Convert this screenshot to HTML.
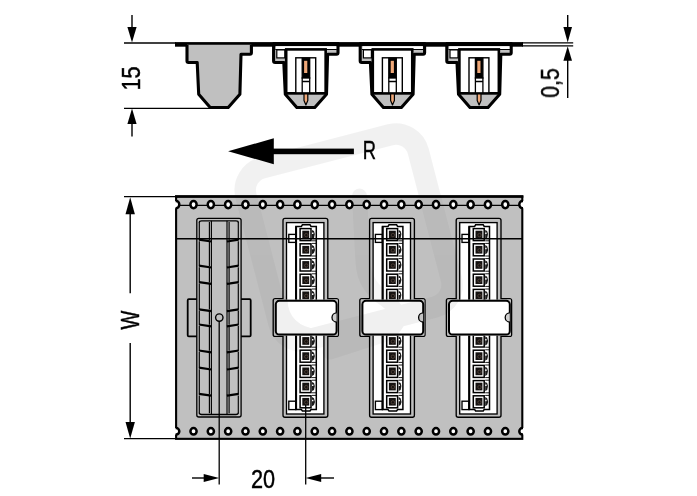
<!DOCTYPE html>
<html lang="en">
<head>
<meta charset="utf-8">
<title>Carrier tape dimensions</title>
<style>
html,body{margin:0;padding:0;background:#fff;}
body{width:697px;height:496px;overflow:hidden;}
svg{display:block;}
svg text{font-family:"Liberation Sans",sans-serif;fill:#000;}
.txt{filter:grayscale(1);}
</style>
</head>
<body>
<svg width="697" height="496" viewBox="0 0 697 496">
<defs>
<clipPath id="stripclip"><rect x="175.8" y="196" width="346.5" height="243"/></clipPath>
<clipPath id="latchclip"><rect x="275.80" y="300.8" width="60.8" height="33.8" rx="3.6"/><rect x="362.40" y="300.8" width="60.8" height="33.8" rx="3.6"/><rect x="449.00" y="300.8" width="60.8" height="33.8" rx="3.6"/></clipPath>
<clipPath id="lclip"><rect x="170" y="190" width="5.0" height="260"/></clipPath>
<clipPath id="rclip"><rect x="523.2" y="190" width="6" height="260"/></clipPath>
</defs>
<rect x="0" y="0" width="697" height="496" fill="#fff"/>
<g fill="none" stroke="#000" opacity="0.052" stroke-linejoin="round" stroke-linecap="round">
<rect x="-89" y="-89" width="178" height="178" rx="23" transform="translate(348.65 237.45) rotate(-14.5)" stroke-width="21.5"/>
<path d="M359.5,196 L363,262 Q364,286 386,300 Q410,318 386,334 L330,352" stroke-width="15"/>
<path d="M283,300 Q284,330 318,334" stroke-width="9"/>
</g>
<line x1="124.00" y1="43.00" x2="176.00" y2="43.00" stroke="#000" stroke-width="1.3" />
<line x1="124.00" y1="108.40" x2="211.00" y2="108.40" stroke="#000" stroke-width="1.3" />
<line x1="522.00" y1="42.85" x2="573.20" y2="42.85" stroke="#000" stroke-width="1.3" />
<line x1="522.00" y1="45.85" x2="573.20" y2="45.85" stroke="#000" stroke-width="1.3" />
<rect x="175.00" y="42.10" width="348.00" height="4.60" rx="0" fill="#000" stroke="none" stroke-width="0" />
<path d="M187.00,44.7 L187.00,61.0 Q187.00,62.5 188.50,62.5 L197.20,62.5 L198.70,94.3 L210.20,107.5 L228.20,107.5 L239.90,94.3 L241.00,54.2 L249.90,54.2 Q251.40,54.2 251.40,52.7 L251.40,44.7" fill="#c0c0c0" stroke="#000" stroke-width="3.1" stroke-linejoin="round"/>
<path d="M273.60,44.7 L273.60,61.0 Q273.60,62.5 275.10,62.5 L283.80,62.5 L285.30,94.3 L296.80,107.5 L314.80,107.5 L326.50,94.3 L327.60,54.2 L336.50,54.2 Q338.00,54.2 338.00,52.7 L338.00,44.7" fill="#c0c0c0" stroke="#000" stroke-width="3.1" stroke-linejoin="round"/>
<rect x="272.70" y="42.10" width="66.40" height="4.10" rx="0" fill="#000" stroke="none" stroke-width="0" />
<rect x="276.00" y="46.20" width="60.20" height="2.80" rx="0" fill="#fff" stroke="none" stroke-width="0" />
<line x1="275.30" y1="49.50" x2="336.80" y2="49.50" stroke="#000" stroke-width="1.1" />
<rect x="276.80" y="49.90" width="8.00" height="8.00" rx="0" fill="#fff" stroke="#000" stroke-width="1.2" />
<rect x="286.20" y="49.40" width="39.45" height="43.90" rx="0" fill="#fff" stroke="#000" stroke-width="2.6" />
<rect x="295.80" y="57.80" width="19.90" height="35.50" rx="0" fill="#fff" stroke="#000" stroke-width="1.4" />
<rect x="302.20" y="58.20" width="7.50" height="19.80" rx="0" fill="#000" stroke="#000" stroke-width="1.3" />
<rect x="304.10" y="60.80" width="3.20" height="12.20" rx="0" fill="#f0a878" stroke="none" stroke-width="0" />
<rect x="302.20" y="78.00" width="7.50" height="15.30" rx="0" fill="#fff" stroke="#000" stroke-width="1.3" />
<line x1="302.20" y1="81.50" x2="309.70" y2="81.50" stroke="#000" stroke-width="1.5" />
<line x1="285.60" y1="93.30" x2="326.20" y2="93.30" stroke="#000" stroke-width="1.9" />
<path d="M304.00,94.0 L304.00,100.5 L305.90,105 L307.80,100.5 L307.80,94.0 Z" fill="#f0a878" stroke="#000" stroke-width="1.2" stroke-linejoin="round"/>
<path d="M360.20,44.7 L360.20,61.0 Q360.20,62.5 361.70,62.5 L370.40,62.5 L371.90,94.3 L383.40,107.5 L401.40,107.5 L413.10,94.3 L414.20,54.2 L423.10,54.2 Q424.60,54.2 424.60,52.7 L424.60,44.7" fill="#c0c0c0" stroke="#000" stroke-width="3.1" stroke-linejoin="round"/>
<rect x="359.30" y="42.10" width="66.40" height="4.10" rx="0" fill="#000" stroke="none" stroke-width="0" />
<rect x="362.60" y="46.20" width="60.20" height="2.80" rx="0" fill="#fff" stroke="none" stroke-width="0" />
<line x1="361.90" y1="49.50" x2="423.40" y2="49.50" stroke="#000" stroke-width="1.1" />
<rect x="363.40" y="49.90" width="8.00" height="8.00" rx="0" fill="#fff" stroke="#000" stroke-width="1.2" />
<rect x="372.80" y="49.40" width="39.45" height="43.90" rx="0" fill="#fff" stroke="#000" stroke-width="2.6" />
<rect x="382.40" y="57.80" width="19.90" height="35.50" rx="0" fill="#fff" stroke="#000" stroke-width="1.4" />
<rect x="388.80" y="58.20" width="7.50" height="19.80" rx="0" fill="#000" stroke="#000" stroke-width="1.3" />
<rect x="390.70" y="60.80" width="3.20" height="12.20" rx="0" fill="#f0a878" stroke="none" stroke-width="0" />
<rect x="388.80" y="78.00" width="7.50" height="15.30" rx="0" fill="#fff" stroke="#000" stroke-width="1.3" />
<line x1="388.80" y1="81.50" x2="396.30" y2="81.50" stroke="#000" stroke-width="1.5" />
<line x1="372.20" y1="93.30" x2="412.80" y2="93.30" stroke="#000" stroke-width="1.9" />
<path d="M390.60,94.0 L390.60,100.5 L392.50,105 L394.40,100.5 L394.40,94.0 Z" fill="#f0a878" stroke="#000" stroke-width="1.2" stroke-linejoin="round"/>
<path d="M446.80,44.7 L446.80,61.0 Q446.80,62.5 448.30,62.5 L457.00,62.5 L458.50,94.3 L470.00,107.5 L488.00,107.5 L499.70,94.3 L500.80,54.2 L509.70,54.2 Q511.20,54.2 511.20,52.7 L511.20,44.7" fill="#c0c0c0" stroke="#000" stroke-width="3.1" stroke-linejoin="round"/>
<rect x="445.90" y="42.10" width="66.40" height="4.10" rx="0" fill="#000" stroke="none" stroke-width="0" />
<rect x="449.20" y="46.20" width="60.20" height="2.80" rx="0" fill="#fff" stroke="none" stroke-width="0" />
<line x1="448.50" y1="49.50" x2="510.00" y2="49.50" stroke="#000" stroke-width="1.1" />
<rect x="450.00" y="49.90" width="8.00" height="8.00" rx="0" fill="#fff" stroke="#000" stroke-width="1.2" />
<rect x="459.40" y="49.40" width="39.45" height="43.90" rx="0" fill="#fff" stroke="#000" stroke-width="2.6" />
<rect x="469.00" y="57.80" width="19.90" height="35.50" rx="0" fill="#fff" stroke="#000" stroke-width="1.4" />
<rect x="475.40" y="58.20" width="7.50" height="19.80" rx="0" fill="#000" stroke="#000" stroke-width="1.3" />
<rect x="477.30" y="60.80" width="3.20" height="12.20" rx="0" fill="#f0a878" stroke="none" stroke-width="0" />
<rect x="475.40" y="78.00" width="7.50" height="15.30" rx="0" fill="#fff" stroke="#000" stroke-width="1.3" />
<line x1="475.40" y1="81.50" x2="482.90" y2="81.50" stroke="#000" stroke-width="1.5" />
<line x1="458.80" y1="93.30" x2="499.40" y2="93.30" stroke="#000" stroke-width="1.9" />
<path d="M477.20,94.0 L477.20,100.5 L479.10,105 L481.00,100.5 L481.00,94.0 Z" fill="#f0a878" stroke="#000" stroke-width="1.2" stroke-linejoin="round"/>
<line x1="132.00" y1="15.00" x2="132.00" y2="30.20" stroke="#000" stroke-width="1.4" />
<polygon points="132.00,42.60 127.40,27.10 136.60,27.10" fill="#000"/>
<line x1="132.00" y1="136.60" x2="132.00" y2="121.00" stroke="#000" stroke-width="1.4" />
<polygon points="132.00,108.60 127.40,124.10 136.60,124.10" fill="#000"/>
<line x1="567.70" y1="15.00" x2="567.70" y2="30.20" stroke="#000" stroke-width="1.4" />
<polygon points="567.70,42.60 563.40,27.10 572.00,27.10" fill="#000"/>
<line x1="567.70" y1="98.10" x2="567.70" y2="57.88" stroke="#000" stroke-width="1.4" />
<polygon points="567.70,46.20 563.40,60.80 572.00,60.80" fill="#000"/>
<rect x="273.00" y="148.60" width="80.90" height="5.60" rx="0" fill="#000" stroke="none" stroke-width="0" />
<polygon points="228.10,151.30 273.80,138.20 273.80,164.20" fill="#000"/>
<rect x="176.10" y="196.50" width="346.20" height="242.35" rx="0" fill="#c0c0c0" stroke="#000" stroke-width="2.1" />
<line x1="175.05" y1="196.50" x2="523.35" y2="196.50" stroke="#000" stroke-width="2.6" />
<line x1="124.00" y1="196.60" x2="176.00" y2="196.60" stroke="#000" stroke-width="1.3" />
<line x1="124.00" y1="438.70" x2="176.00" y2="438.70" stroke="#000" stroke-width="1.3" />
<line x1="176.00" y1="205.30" x2="522.00" y2="205.30" stroke="#000" stroke-width="1.3" />
<path d="M174.00,201.00 L176.20,201.00 A3.1,3.6 0 0 1 176.20,208.20 L174.00,208.20 Z" fill="#fff" stroke="none"/>
<path d="M175.60,201.00 L176.20,201.00 A3.1,3.6 0 0 1 176.20,208.20 L175.60,208.20" fill="none" stroke="#000" stroke-width="2.5"/>
<path d="M174.00,428.10 L176.20,428.10 A3.1,3.2 0 0 1 176.20,434.50 L174.00,434.50 Z" fill="#fff" stroke="none"/>
<path d="M175.60,428.10 L176.20,428.10 A3.1,3.2 0 0 1 176.20,434.50 L175.60,434.50" fill="none" stroke="#000" stroke-width="2.5"/>
<ellipse cx="193.52" cy="204.6" rx="3.1" ry="3.6" fill="#fff" stroke="#000" stroke-width="2.5"/>
<ellipse cx="193.52" cy="431.3" rx="3.1" ry="3.2" fill="#fff" stroke="#000" stroke-width="2.5"/>
<ellipse cx="210.84" cy="204.6" rx="3.1" ry="3.6" fill="#fff" stroke="#000" stroke-width="2.5"/>
<ellipse cx="210.84" cy="431.3" rx="3.1" ry="3.2" fill="#fff" stroke="#000" stroke-width="2.5"/>
<ellipse cx="228.16" cy="204.6" rx="3.1" ry="3.6" fill="#fff" stroke="#000" stroke-width="2.5"/>
<ellipse cx="228.16" cy="431.3" rx="3.1" ry="3.2" fill="#fff" stroke="#000" stroke-width="2.5"/>
<ellipse cx="245.48" cy="204.6" rx="3.1" ry="3.6" fill="#fff" stroke="#000" stroke-width="2.5"/>
<ellipse cx="245.48" cy="431.3" rx="3.1" ry="3.2" fill="#fff" stroke="#000" stroke-width="2.5"/>
<ellipse cx="262.80" cy="204.6" rx="3.1" ry="3.6" fill="#fff" stroke="#000" stroke-width="2.5"/>
<ellipse cx="262.80" cy="431.3" rx="3.1" ry="3.2" fill="#fff" stroke="#000" stroke-width="2.5"/>
<ellipse cx="280.12" cy="204.6" rx="3.1" ry="3.6" fill="#fff" stroke="#000" stroke-width="2.5"/>
<ellipse cx="280.12" cy="431.3" rx="3.1" ry="3.2" fill="#fff" stroke="#000" stroke-width="2.5"/>
<ellipse cx="297.44" cy="204.6" rx="3.1" ry="3.6" fill="#fff" stroke="#000" stroke-width="2.5"/>
<ellipse cx="297.44" cy="431.3" rx="3.1" ry="3.2" fill="#fff" stroke="#000" stroke-width="2.5"/>
<ellipse cx="314.76" cy="204.6" rx="3.1" ry="3.6" fill="#fff" stroke="#000" stroke-width="2.5"/>
<ellipse cx="314.76" cy="431.3" rx="3.1" ry="3.2" fill="#fff" stroke="#000" stroke-width="2.5"/>
<ellipse cx="332.08" cy="204.6" rx="3.1" ry="3.6" fill="#fff" stroke="#000" stroke-width="2.5"/>
<ellipse cx="332.08" cy="431.3" rx="3.1" ry="3.2" fill="#fff" stroke="#000" stroke-width="2.5"/>
<ellipse cx="349.40" cy="204.6" rx="3.1" ry="3.6" fill="#fff" stroke="#000" stroke-width="2.5"/>
<ellipse cx="349.40" cy="431.3" rx="3.1" ry="3.2" fill="#fff" stroke="#000" stroke-width="2.5"/>
<ellipse cx="366.72" cy="204.6" rx="3.1" ry="3.6" fill="#fff" stroke="#000" stroke-width="2.5"/>
<ellipse cx="366.72" cy="431.3" rx="3.1" ry="3.2" fill="#fff" stroke="#000" stroke-width="2.5"/>
<ellipse cx="384.04" cy="204.6" rx="3.1" ry="3.6" fill="#fff" stroke="#000" stroke-width="2.5"/>
<ellipse cx="384.04" cy="431.3" rx="3.1" ry="3.2" fill="#fff" stroke="#000" stroke-width="2.5"/>
<ellipse cx="401.36" cy="204.6" rx="3.1" ry="3.6" fill="#fff" stroke="#000" stroke-width="2.5"/>
<ellipse cx="401.36" cy="431.3" rx="3.1" ry="3.2" fill="#fff" stroke="#000" stroke-width="2.5"/>
<ellipse cx="418.68" cy="204.6" rx="3.1" ry="3.6" fill="#fff" stroke="#000" stroke-width="2.5"/>
<ellipse cx="418.68" cy="431.3" rx="3.1" ry="3.2" fill="#fff" stroke="#000" stroke-width="2.5"/>
<ellipse cx="436.00" cy="204.6" rx="3.1" ry="3.6" fill="#fff" stroke="#000" stroke-width="2.5"/>
<ellipse cx="436.00" cy="431.3" rx="3.1" ry="3.2" fill="#fff" stroke="#000" stroke-width="2.5"/>
<ellipse cx="453.32" cy="204.6" rx="3.1" ry="3.6" fill="#fff" stroke="#000" stroke-width="2.5"/>
<ellipse cx="453.32" cy="431.3" rx="3.1" ry="3.2" fill="#fff" stroke="#000" stroke-width="2.5"/>
<ellipse cx="470.64" cy="204.6" rx="3.1" ry="3.6" fill="#fff" stroke="#000" stroke-width="2.5"/>
<ellipse cx="470.64" cy="431.3" rx="3.1" ry="3.2" fill="#fff" stroke="#000" stroke-width="2.5"/>
<ellipse cx="487.96" cy="204.6" rx="3.1" ry="3.6" fill="#fff" stroke="#000" stroke-width="2.5"/>
<ellipse cx="487.96" cy="431.3" rx="3.1" ry="3.2" fill="#fff" stroke="#000" stroke-width="2.5"/>
<ellipse cx="505.28" cy="204.6" rx="3.1" ry="3.6" fill="#fff" stroke="#000" stroke-width="2.5"/>
<ellipse cx="505.28" cy="431.3" rx="3.1" ry="3.2" fill="#fff" stroke="#000" stroke-width="2.5"/>
<path d="M524.60,201.00 L522.40,201.00 A3.1,3.6 0 0 0 522.40,208.20 L524.60,208.20 Z" fill="#fff" stroke="none"/>
<path d="M523.00,201.00 L522.40,201.00 A3.1,3.6 0 0 0 522.40,208.20 L523.00,208.20" fill="none" stroke="#000" stroke-width="2.5"/>
<path d="M524.60,428.10 L522.40,428.10 A3.1,3.2 0 0 0 522.40,434.50 L524.60,434.50 Z" fill="#fff" stroke="none"/>
<path d="M523.00,428.10 L522.40,428.10 A3.1,3.2 0 0 0 522.40,434.50 L523.00,434.50" fill="none" stroke="#000" stroke-width="2.5"/>
<rect x="196.80" y="218.40" width="44.30" height="198.60" rx="2" fill="none" stroke="#000" stroke-width="1.3" />
<path d="M199.30,222.4 Q199.30,220.8 201.70,220.8 L235.90,220.8 Q238.30,220.8 238.30,222.4" fill="none" stroke="#000" stroke-width="1.3" />
<path d="M199.30,412.8 Q199.30,414.5 201.70,414.5 L235.90,414.5 Q238.30,414.5 238.30,412.8" fill="none" stroke="#000" stroke-width="1.3" />
<line x1="211.40" y1="220.80" x2="211.40" y2="414.50" stroke="#000" stroke-width="1.15" />
<line x1="227.00" y1="220.80" x2="227.00" y2="414.50" stroke="#000" stroke-width="1.15" />
<line x1="199.30" y1="222.10" x2="199.30" y2="240.00" stroke="#000" stroke-width="1.15" />
<line x1="209.40" y1="222.10" x2="209.40" y2="240.00" stroke="#000" stroke-width="1.15" />
<line x1="229.10" y1="222.10" x2="229.10" y2="240.00" stroke="#000" stroke-width="1.15" />
<line x1="238.30" y1="222.10" x2="238.30" y2="240.00" stroke="#000" stroke-width="1.15" />
<line x1="199.30" y1="241.20" x2="199.30" y2="266.00" stroke="#000" stroke-width="1.15" />
<line x1="209.40" y1="241.20" x2="209.40" y2="266.00" stroke="#000" stroke-width="1.15" />
<line x1="229.10" y1="241.20" x2="229.10" y2="266.00" stroke="#000" stroke-width="1.15" />
<line x1="238.30" y1="241.20" x2="238.30" y2="266.00" stroke="#000" stroke-width="1.15" />
<line x1="199.30" y1="267.20" x2="199.30" y2="282.40" stroke="#000" stroke-width="1.15" />
<line x1="209.40" y1="267.20" x2="209.40" y2="282.40" stroke="#000" stroke-width="1.15" />
<line x1="229.10" y1="267.20" x2="229.10" y2="282.40" stroke="#000" stroke-width="1.15" />
<line x1="238.30" y1="267.20" x2="238.30" y2="282.40" stroke="#000" stroke-width="1.15" />
<line x1="199.30" y1="283.60" x2="199.30" y2="309.60" stroke="#000" stroke-width="1.15" />
<line x1="209.40" y1="283.60" x2="209.40" y2="309.60" stroke="#000" stroke-width="1.15" />
<line x1="229.10" y1="283.60" x2="229.10" y2="309.60" stroke="#000" stroke-width="1.15" />
<line x1="238.30" y1="283.60" x2="238.30" y2="309.60" stroke="#000" stroke-width="1.15" />
<line x1="199.30" y1="310.80" x2="199.30" y2="324.80" stroke="#000" stroke-width="1.15" />
<line x1="209.40" y1="310.80" x2="209.40" y2="324.80" stroke="#000" stroke-width="1.15" />
<line x1="229.10" y1="310.80" x2="229.10" y2="324.80" stroke="#000" stroke-width="1.15" />
<line x1="238.30" y1="310.80" x2="238.30" y2="324.80" stroke="#000" stroke-width="1.15" />
<line x1="199.30" y1="326.00" x2="199.30" y2="350.80" stroke="#000" stroke-width="1.15" />
<line x1="209.40" y1="326.00" x2="209.40" y2="350.80" stroke="#000" stroke-width="1.15" />
<line x1="229.10" y1="326.00" x2="229.10" y2="350.80" stroke="#000" stroke-width="1.15" />
<line x1="238.30" y1="326.00" x2="238.30" y2="350.80" stroke="#000" stroke-width="1.15" />
<line x1="199.30" y1="352.00" x2="199.30" y2="368.00" stroke="#000" stroke-width="1.15" />
<line x1="209.40" y1="352.00" x2="209.40" y2="368.00" stroke="#000" stroke-width="1.15" />
<line x1="229.10" y1="352.00" x2="229.10" y2="368.00" stroke="#000" stroke-width="1.15" />
<line x1="238.30" y1="352.00" x2="238.30" y2="368.00" stroke="#000" stroke-width="1.15" />
<line x1="199.30" y1="369.20" x2="199.30" y2="394.20" stroke="#000" stroke-width="1.15" />
<line x1="209.40" y1="369.20" x2="209.40" y2="394.20" stroke="#000" stroke-width="1.15" />
<line x1="229.10" y1="369.20" x2="229.10" y2="394.20" stroke="#000" stroke-width="1.15" />
<line x1="238.30" y1="369.20" x2="238.30" y2="394.20" stroke="#000" stroke-width="1.15" />
<line x1="199.30" y1="395.40" x2="199.30" y2="413.20" stroke="#000" stroke-width="1.15" />
<line x1="209.40" y1="395.40" x2="209.40" y2="413.20" stroke="#000" stroke-width="1.15" />
<line x1="229.10" y1="395.40" x2="229.10" y2="413.20" stroke="#000" stroke-width="1.15" />
<line x1="238.30" y1="395.40" x2="238.30" y2="413.20" stroke="#000" stroke-width="1.15" />
<path d="M196.80,299.2 L188.80,299.2 Q187.70,299.2 187.70,300.4 L187.70,335.2 Q187.70,336.4 188.80,336.4 L196.80,336.4" fill="none" stroke="#000" stroke-width="1.8" />
<path d="M241.10,299.2 L249.60,299.2 Q250.70,299.2 250.70,300.4 L250.70,335.2 Q250.70,336.4 249.60,336.4 L241.10,336.4" fill="none" stroke="#000" stroke-width="1.8" />
<path d="M198.90,239.70 L211.40,241.50" fill="none" stroke="#000" stroke-width="2.2" />
<path d="M226.90,241.50 L238.70,239.70" fill="none" stroke="#000" stroke-width="2.2" />
<path d="M198.90,265.70 L211.40,267.50" fill="none" stroke="#000" stroke-width="2.2" />
<path d="M226.90,267.50 L238.70,265.70" fill="none" stroke="#000" stroke-width="2.2" />
<path d="M198.90,282.10 L211.40,283.90" fill="none" stroke="#000" stroke-width="2.2" />
<path d="M226.90,283.90 L238.70,282.10" fill="none" stroke="#000" stroke-width="2.2" />
<path d="M198.90,309.30 L211.40,311.10" fill="none" stroke="#000" stroke-width="2.2" />
<path d="M226.90,311.10 L238.70,309.30" fill="none" stroke="#000" stroke-width="2.2" />
<path d="M198.90,324.50 L211.40,326.30" fill="none" stroke="#000" stroke-width="2.2" />
<path d="M226.90,326.30 L238.70,324.50" fill="none" stroke="#000" stroke-width="2.2" />
<path d="M198.90,350.50 L211.40,352.30" fill="none" stroke="#000" stroke-width="2.2" />
<path d="M226.90,352.30 L238.70,350.50" fill="none" stroke="#000" stroke-width="2.2" />
<path d="M198.90,367.70 L211.40,369.50" fill="none" stroke="#000" stroke-width="2.2" />
<path d="M226.90,369.50 L238.70,367.70" fill="none" stroke="#000" stroke-width="2.2" />
<path d="M198.90,393.90 L211.40,395.70" fill="none" stroke="#000" stroke-width="2.2" />
<path d="M226.90,395.70 L238.70,393.90" fill="none" stroke="#000" stroke-width="2.2" />
<circle cx="219.30" cy="317.6" r="3.7" fill="none" stroke="#000" stroke-width="1.4"/>
<path d="M285.00,218.4 L325.80,218.4 Q327.80,218.4 327.80,220.4 L327.80,298.6 L336.40,298.6 Q338.40,298.6 338.40,300.6 L338.40,334.4 Q338.40,336.4 336.40,336.4 L327.80,336.4 L327.80,415.2 Q327.80,417.2 325.80,417.2 L285.00,417.2 Q283.00,417.2 283.00,415.2 L283.00,336.4 L275.20,336.4 Q273.20,336.4 273.20,334.4 L273.20,300.6 Q273.20,298.6 275.20,298.6 L283.00,298.6 L283.00,220.4 Q283.00,218.4 285.00,218.4 Z" fill="#c0c0c0" stroke="#000" stroke-width="1.35" />
<rect x="286.50" y="222.60" width="37.40" height="191.40" rx="0" fill="#fff" stroke="#000" stroke-width="1.35" />
<rect x="288.80" y="234.40" width="7.00" height="8.00" rx="0" fill="#fff" stroke="#000" stroke-width="1.35" />
<rect x="288.80" y="401.20" width="7.00" height="8.40" rx="0" fill="#fff" stroke="#000" stroke-width="1.35" />
<path d="M295.90,226.4 L301.40,226.4 L302.40,224.8 L310.00,224.8 L311.00,226.4 L316.30,226.4 L316.30,409.6 L311.00,409.6 L310.00,411.0 L302.40,411.0 L301.40,409.6 L295.90,409.6 Z" fill="#fff" stroke="#000" stroke-width="1.5" />
<line x1="296.10" y1="226.40" x2="296.10" y2="409.60" stroke="#000" stroke-width="2.0" />
<rect x="300.10" y="228.60" width="10.90" height="12.00" rx="0" fill="#fff" stroke="#000" stroke-width="1.5" />
<rect x="302.30" y="230.70" width="6.90" height="7.70" rx="0" fill="#151211" stroke="none" stroke-width="0" />
<circle cx="306.30" cy="235.10" r="1.7" fill="none" stroke="#6a5548" stroke-width="0.6"/>
<path d="M312.00,229.90 L314.00,231.10 Q315.80,234.50 314.00,237.90 L312.00,239.10 Z" fill="#1a1a1a"/>
<path d="M312.00,232.50 L313.40,232.50 L313.40,234.10 L312.00,234.10 Z" fill="#fff"/>
<line x1="312.00" y1="240.80" x2="316.00" y2="240.80" stroke="#000" stroke-width="0.9" />
<line x1="312.00" y1="243.40" x2="316.00" y2="243.40" stroke="#000" stroke-width="0.9" />
<rect x="300.10" y="243.80" width="10.90" height="12.00" rx="0" fill="#fff" stroke="#000" stroke-width="1.5" />
<rect x="302.30" y="245.90" width="6.90" height="7.70" rx="0" fill="#151211" stroke="none" stroke-width="0" />
<circle cx="306.30" cy="250.30" r="1.7" fill="none" stroke="#6a5548" stroke-width="0.6"/>
<path d="M312.00,245.10 L314.00,246.30 Q315.80,249.70 314.00,253.10 L312.00,254.30 Z" fill="#1a1a1a"/>
<path d="M312.00,247.70 L313.40,247.70 L313.40,249.30 L312.00,249.30 Z" fill="#fff"/>
<line x1="312.00" y1="256.00" x2="316.00" y2="256.00" stroke="#000" stroke-width="0.9" />
<line x1="312.00" y1="258.60" x2="316.00" y2="258.60" stroke="#000" stroke-width="0.9" />
<rect x="300.10" y="259.00" width="10.90" height="12.00" rx="0" fill="#fff" stroke="#000" stroke-width="1.5" />
<rect x="302.30" y="261.10" width="6.90" height="7.70" rx="0" fill="#151211" stroke="none" stroke-width="0" />
<circle cx="306.30" cy="265.50" r="1.7" fill="none" stroke="#6a5548" stroke-width="0.6"/>
<path d="M312.00,260.30 L314.00,261.50 Q315.80,264.90 314.00,268.30 L312.00,269.50 Z" fill="#1a1a1a"/>
<path d="M312.00,262.90 L313.40,262.90 L313.40,264.50 L312.00,264.50 Z" fill="#fff"/>
<line x1="312.00" y1="271.20" x2="316.00" y2="271.20" stroke="#000" stroke-width="0.9" />
<line x1="312.00" y1="273.80" x2="316.00" y2="273.80" stroke="#000" stroke-width="0.9" />
<rect x="300.10" y="274.20" width="10.90" height="12.00" rx="0" fill="#fff" stroke="#000" stroke-width="1.5" />
<rect x="302.30" y="276.30" width="6.90" height="7.70" rx="0" fill="#151211" stroke="none" stroke-width="0" />
<circle cx="306.30" cy="280.70" r="1.7" fill="none" stroke="#6a5548" stroke-width="0.6"/>
<path d="M312.00,275.50 L314.00,276.70 Q315.80,280.10 314.00,283.50 L312.00,284.70 Z" fill="#1a1a1a"/>
<path d="M312.00,278.10 L313.40,278.10 L313.40,279.70 L312.00,279.70 Z" fill="#fff"/>
<line x1="312.00" y1="286.40" x2="316.00" y2="286.40" stroke="#000" stroke-width="0.9" />
<line x1="312.00" y1="289.00" x2="316.00" y2="289.00" stroke="#000" stroke-width="0.9" />
<rect x="300.10" y="289.40" width="10.90" height="12.00" rx="0" fill="#fff" stroke="#000" stroke-width="1.5" />
<rect x="302.30" y="291.50" width="6.90" height="7.70" rx="0" fill="#151211" stroke="none" stroke-width="0" />
<circle cx="306.30" cy="295.90" r="1.7" fill="none" stroke="#6a5548" stroke-width="0.6"/>
<path d="M312.00,290.70 L314.00,291.90 Q315.80,295.30 314.00,298.70 L312.00,299.90 Z" fill="#1a1a1a"/>
<path d="M312.00,293.30 L313.40,293.30 L313.40,294.90 L312.00,294.90 Z" fill="#fff"/>
<rect x="300.10" y="335.00" width="10.90" height="12.00" rx="0" fill="#fff" stroke="#000" stroke-width="1.5" />
<rect x="302.30" y="337.10" width="6.90" height="7.70" rx="0" fill="#151211" stroke="none" stroke-width="0" />
<circle cx="306.30" cy="341.50" r="1.7" fill="none" stroke="#6a5548" stroke-width="0.6"/>
<path d="M312.00,336.30 L314.00,337.50 Q315.80,340.90 314.00,344.30 L312.00,345.50 Z" fill="#1a1a1a"/>
<path d="M312.00,338.90 L313.40,338.90 L313.40,340.50 L312.00,340.50 Z" fill="#fff"/>
<line x1="312.00" y1="347.20" x2="316.00" y2="347.20" stroke="#000" stroke-width="0.9" />
<line x1="312.00" y1="349.80" x2="316.00" y2="349.80" stroke="#000" stroke-width="0.9" />
<rect x="300.10" y="350.20" width="10.90" height="12.00" rx="0" fill="#fff" stroke="#000" stroke-width="1.5" />
<rect x="302.30" y="352.30" width="6.90" height="7.70" rx="0" fill="#151211" stroke="none" stroke-width="0" />
<circle cx="306.30" cy="356.70" r="1.7" fill="none" stroke="#6a5548" stroke-width="0.6"/>
<path d="M312.00,351.50 L314.00,352.70 Q315.80,356.10 314.00,359.50 L312.00,360.70 Z" fill="#1a1a1a"/>
<path d="M312.00,354.10 L313.40,354.10 L313.40,355.70 L312.00,355.70 Z" fill="#fff"/>
<line x1="312.00" y1="362.40" x2="316.00" y2="362.40" stroke="#000" stroke-width="0.9" />
<line x1="312.00" y1="365.00" x2="316.00" y2="365.00" stroke="#000" stroke-width="0.9" />
<rect x="300.10" y="365.40" width="10.90" height="12.00" rx="0" fill="#fff" stroke="#000" stroke-width="1.5" />
<rect x="302.30" y="367.50" width="6.90" height="7.70" rx="0" fill="#151211" stroke="none" stroke-width="0" />
<circle cx="306.30" cy="371.90" r="1.7" fill="none" stroke="#6a5548" stroke-width="0.6"/>
<path d="M312.00,366.70 L314.00,367.90 Q315.80,371.30 314.00,374.70 L312.00,375.90 Z" fill="#1a1a1a"/>
<path d="M312.00,369.30 L313.40,369.30 L313.40,370.90 L312.00,370.90 Z" fill="#fff"/>
<line x1="312.00" y1="377.60" x2="316.00" y2="377.60" stroke="#000" stroke-width="0.9" />
<line x1="312.00" y1="380.20" x2="316.00" y2="380.20" stroke="#000" stroke-width="0.9" />
<rect x="300.10" y="380.60" width="10.90" height="12.00" rx="0" fill="#fff" stroke="#000" stroke-width="1.5" />
<rect x="302.30" y="382.70" width="6.90" height="7.70" rx="0" fill="#151211" stroke="none" stroke-width="0" />
<circle cx="306.30" cy="387.10" r="1.7" fill="none" stroke="#6a5548" stroke-width="0.6"/>
<path d="M312.00,381.90 L314.00,383.10 Q315.80,386.50 314.00,389.90 L312.00,391.10 Z" fill="#1a1a1a"/>
<path d="M312.00,384.50 L313.40,384.50 L313.40,386.10 L312.00,386.10 Z" fill="#fff"/>
<line x1="312.00" y1="392.80" x2="316.00" y2="392.80" stroke="#000" stroke-width="0.9" />
<line x1="312.00" y1="395.40" x2="316.00" y2="395.40" stroke="#000" stroke-width="0.9" />
<rect x="300.10" y="395.80" width="10.90" height="12.00" rx="0" fill="#fff" stroke="#000" stroke-width="1.5" />
<rect x="302.30" y="397.90" width="6.90" height="7.70" rx="0" fill="#151211" stroke="none" stroke-width="0" />
<circle cx="306.30" cy="402.30" r="1.7" fill="none" stroke="#6a5548" stroke-width="0.6"/>
<path d="M312.00,397.10 L314.00,398.30 Q315.80,401.70 314.00,405.10 L312.00,406.30 Z" fill="#1a1a1a"/>
<path d="M312.00,399.70 L313.40,399.70 L313.40,401.30 L312.00,401.30 Z" fill="#fff"/>
<rect x="274.40" y="299.60" width="63.40" height="36.00" rx="0" fill="#c0c0c0" stroke="none" stroke-width="0" />
<rect x="275.80" y="300.80" width="60.80" height="33.80" rx="3.6" fill="#fff" stroke="#000" stroke-width="2.0" />
<path d="M336.60,312.80 A4.6,4.6 0 0 0 336.60,322.00" fill="#d0d0d0" stroke="#000" stroke-width="1.3"/>
<path d="M371.60,218.4 L412.40,218.4 Q414.40,218.4 414.40,220.4 L414.40,298.6 L423.00,298.6 Q425.00,298.6 425.00,300.6 L425.00,334.4 Q425.00,336.4 423.00,336.4 L414.40,336.4 L414.40,415.2 Q414.40,417.2 412.40,417.2 L371.60,417.2 Q369.60,417.2 369.60,415.2 L369.60,336.4 L361.80,336.4 Q359.80,336.4 359.80,334.4 L359.80,300.6 Q359.80,298.6 361.80,298.6 L369.60,298.6 L369.60,220.4 Q369.60,218.4 371.60,218.4 Z" fill="#c0c0c0" stroke="#000" stroke-width="1.35" />
<rect x="373.10" y="222.60" width="37.40" height="191.40" rx="0" fill="#fff" stroke="#000" stroke-width="1.35" />
<rect x="375.40" y="234.40" width="7.00" height="8.00" rx="0" fill="#fff" stroke="#000" stroke-width="1.35" />
<rect x="375.40" y="401.20" width="7.00" height="8.40" rx="0" fill="#fff" stroke="#000" stroke-width="1.35" />
<path d="M382.50,226.4 L388.00,226.4 L389.00,224.8 L396.60,224.8 L397.60,226.4 L402.90,226.4 L402.90,409.6 L397.60,409.6 L396.60,411.0 L389.00,411.0 L388.00,409.6 L382.50,409.6 Z" fill="#fff" stroke="#000" stroke-width="1.5" />
<line x1="382.70" y1="226.40" x2="382.70" y2="409.60" stroke="#000" stroke-width="2.0" />
<rect x="386.70" y="228.60" width="10.90" height="12.00" rx="0" fill="#fff" stroke="#000" stroke-width="1.5" />
<rect x="388.90" y="230.70" width="6.90" height="7.70" rx="0" fill="#151211" stroke="none" stroke-width="0" />
<circle cx="392.90" cy="235.10" r="1.7" fill="none" stroke="#6a5548" stroke-width="0.6"/>
<path d="M398.60,229.90 L400.60,231.10 Q402.40,234.50 400.60,237.90 L398.60,239.10 Z" fill="#1a1a1a"/>
<path d="M398.60,232.50 L400.00,232.50 L400.00,234.10 L398.60,234.10 Z" fill="#fff"/>
<line x1="398.60" y1="240.80" x2="402.60" y2="240.80" stroke="#000" stroke-width="0.9" />
<line x1="398.60" y1="243.40" x2="402.60" y2="243.40" stroke="#000" stroke-width="0.9" />
<rect x="386.70" y="243.80" width="10.90" height="12.00" rx="0" fill="#fff" stroke="#000" stroke-width="1.5" />
<rect x="388.90" y="245.90" width="6.90" height="7.70" rx="0" fill="#151211" stroke="none" stroke-width="0" />
<circle cx="392.90" cy="250.30" r="1.7" fill="none" stroke="#6a5548" stroke-width="0.6"/>
<path d="M398.60,245.10 L400.60,246.30 Q402.40,249.70 400.60,253.10 L398.60,254.30 Z" fill="#1a1a1a"/>
<path d="M398.60,247.70 L400.00,247.70 L400.00,249.30 L398.60,249.30 Z" fill="#fff"/>
<line x1="398.60" y1="256.00" x2="402.60" y2="256.00" stroke="#000" stroke-width="0.9" />
<line x1="398.60" y1="258.60" x2="402.60" y2="258.60" stroke="#000" stroke-width="0.9" />
<rect x="386.70" y="259.00" width="10.90" height="12.00" rx="0" fill="#fff" stroke="#000" stroke-width="1.5" />
<rect x="388.90" y="261.10" width="6.90" height="7.70" rx="0" fill="#151211" stroke="none" stroke-width="0" />
<circle cx="392.90" cy="265.50" r="1.7" fill="none" stroke="#6a5548" stroke-width="0.6"/>
<path d="M398.60,260.30 L400.60,261.50 Q402.40,264.90 400.60,268.30 L398.60,269.50 Z" fill="#1a1a1a"/>
<path d="M398.60,262.90 L400.00,262.90 L400.00,264.50 L398.60,264.50 Z" fill="#fff"/>
<line x1="398.60" y1="271.20" x2="402.60" y2="271.20" stroke="#000" stroke-width="0.9" />
<line x1="398.60" y1="273.80" x2="402.60" y2="273.80" stroke="#000" stroke-width="0.9" />
<rect x="386.70" y="274.20" width="10.90" height="12.00" rx="0" fill="#fff" stroke="#000" stroke-width="1.5" />
<rect x="388.90" y="276.30" width="6.90" height="7.70" rx="0" fill="#151211" stroke="none" stroke-width="0" />
<circle cx="392.90" cy="280.70" r="1.7" fill="none" stroke="#6a5548" stroke-width="0.6"/>
<path d="M398.60,275.50 L400.60,276.70 Q402.40,280.10 400.60,283.50 L398.60,284.70 Z" fill="#1a1a1a"/>
<path d="M398.60,278.10 L400.00,278.10 L400.00,279.70 L398.60,279.70 Z" fill="#fff"/>
<line x1="398.60" y1="286.40" x2="402.60" y2="286.40" stroke="#000" stroke-width="0.9" />
<line x1="398.60" y1="289.00" x2="402.60" y2="289.00" stroke="#000" stroke-width="0.9" />
<rect x="386.70" y="289.40" width="10.90" height="12.00" rx="0" fill="#fff" stroke="#000" stroke-width="1.5" />
<rect x="388.90" y="291.50" width="6.90" height="7.70" rx="0" fill="#151211" stroke="none" stroke-width="0" />
<circle cx="392.90" cy="295.90" r="1.7" fill="none" stroke="#6a5548" stroke-width="0.6"/>
<path d="M398.60,290.70 L400.60,291.90 Q402.40,295.30 400.60,298.70 L398.60,299.90 Z" fill="#1a1a1a"/>
<path d="M398.60,293.30 L400.00,293.30 L400.00,294.90 L398.60,294.90 Z" fill="#fff"/>
<rect x="386.70" y="335.00" width="10.90" height="12.00" rx="0" fill="#fff" stroke="#000" stroke-width="1.5" />
<rect x="388.90" y="337.10" width="6.90" height="7.70" rx="0" fill="#151211" stroke="none" stroke-width="0" />
<circle cx="392.90" cy="341.50" r="1.7" fill="none" stroke="#6a5548" stroke-width="0.6"/>
<path d="M398.60,336.30 L400.60,337.50 Q402.40,340.90 400.60,344.30 L398.60,345.50 Z" fill="#1a1a1a"/>
<path d="M398.60,338.90 L400.00,338.90 L400.00,340.50 L398.60,340.50 Z" fill="#fff"/>
<line x1="398.60" y1="347.20" x2="402.60" y2="347.20" stroke="#000" stroke-width="0.9" />
<line x1="398.60" y1="349.80" x2="402.60" y2="349.80" stroke="#000" stroke-width="0.9" />
<rect x="386.70" y="350.20" width="10.90" height="12.00" rx="0" fill="#fff" stroke="#000" stroke-width="1.5" />
<rect x="388.90" y="352.30" width="6.90" height="7.70" rx="0" fill="#151211" stroke="none" stroke-width="0" />
<circle cx="392.90" cy="356.70" r="1.7" fill="none" stroke="#6a5548" stroke-width="0.6"/>
<path d="M398.60,351.50 L400.60,352.70 Q402.40,356.10 400.60,359.50 L398.60,360.70 Z" fill="#1a1a1a"/>
<path d="M398.60,354.10 L400.00,354.10 L400.00,355.70 L398.60,355.70 Z" fill="#fff"/>
<line x1="398.60" y1="362.40" x2="402.60" y2="362.40" stroke="#000" stroke-width="0.9" />
<line x1="398.60" y1="365.00" x2="402.60" y2="365.00" stroke="#000" stroke-width="0.9" />
<rect x="386.70" y="365.40" width="10.90" height="12.00" rx="0" fill="#fff" stroke="#000" stroke-width="1.5" />
<rect x="388.90" y="367.50" width="6.90" height="7.70" rx="0" fill="#151211" stroke="none" stroke-width="0" />
<circle cx="392.90" cy="371.90" r="1.7" fill="none" stroke="#6a5548" stroke-width="0.6"/>
<path d="M398.60,366.70 L400.60,367.90 Q402.40,371.30 400.60,374.70 L398.60,375.90 Z" fill="#1a1a1a"/>
<path d="M398.60,369.30 L400.00,369.30 L400.00,370.90 L398.60,370.90 Z" fill="#fff"/>
<line x1="398.60" y1="377.60" x2="402.60" y2="377.60" stroke="#000" stroke-width="0.9" />
<line x1="398.60" y1="380.20" x2="402.60" y2="380.20" stroke="#000" stroke-width="0.9" />
<rect x="386.70" y="380.60" width="10.90" height="12.00" rx="0" fill="#fff" stroke="#000" stroke-width="1.5" />
<rect x="388.90" y="382.70" width="6.90" height="7.70" rx="0" fill="#151211" stroke="none" stroke-width="0" />
<circle cx="392.90" cy="387.10" r="1.7" fill="none" stroke="#6a5548" stroke-width="0.6"/>
<path d="M398.60,381.90 L400.60,383.10 Q402.40,386.50 400.60,389.90 L398.60,391.10 Z" fill="#1a1a1a"/>
<path d="M398.60,384.50 L400.00,384.50 L400.00,386.10 L398.60,386.10 Z" fill="#fff"/>
<line x1="398.60" y1="392.80" x2="402.60" y2="392.80" stroke="#000" stroke-width="0.9" />
<line x1="398.60" y1="395.40" x2="402.60" y2="395.40" stroke="#000" stroke-width="0.9" />
<rect x="386.70" y="395.80" width="10.90" height="12.00" rx="0" fill="#fff" stroke="#000" stroke-width="1.5" />
<rect x="388.90" y="397.90" width="6.90" height="7.70" rx="0" fill="#151211" stroke="none" stroke-width="0" />
<circle cx="392.90" cy="402.30" r="1.7" fill="none" stroke="#6a5548" stroke-width="0.6"/>
<path d="M398.60,397.10 L400.60,398.30 Q402.40,401.70 400.60,405.10 L398.60,406.30 Z" fill="#1a1a1a"/>
<path d="M398.60,399.70 L400.00,399.70 L400.00,401.30 L398.60,401.30 Z" fill="#fff"/>
<rect x="361.00" y="299.60" width="63.40" height="36.00" rx="0" fill="#c0c0c0" stroke="none" stroke-width="0" />
<rect x="362.40" y="300.80" width="60.80" height="33.80" rx="3.6" fill="#fff" stroke="#000" stroke-width="2.0" />
<path d="M423.20,312.80 A4.6,4.6 0 0 0 423.20,322.00" fill="#d0d0d0" stroke="#000" stroke-width="1.3"/>
<path d="M458.20,218.4 L499.00,218.4 Q501.00,218.4 501.00,220.4 L501.00,298.6 L509.60,298.6 Q511.60,298.6 511.60,300.6 L511.60,334.4 Q511.60,336.4 509.60,336.4 L501.00,336.4 L501.00,415.2 Q501.00,417.2 499.00,417.2 L458.20,417.2 Q456.20,417.2 456.20,415.2 L456.20,336.4 L448.40,336.4 Q446.40,336.4 446.40,334.4 L446.40,300.6 Q446.40,298.6 448.40,298.6 L456.20,298.6 L456.20,220.4 Q456.20,218.4 458.20,218.4 Z" fill="#c0c0c0" stroke="#000" stroke-width="1.35" />
<rect x="459.70" y="222.60" width="37.40" height="191.40" rx="0" fill="#fff" stroke="#000" stroke-width="1.35" />
<rect x="462.00" y="234.40" width="7.00" height="8.00" rx="0" fill="#fff" stroke="#000" stroke-width="1.35" />
<rect x="462.00" y="401.20" width="7.00" height="8.40" rx="0" fill="#fff" stroke="#000" stroke-width="1.35" />
<path d="M469.10,226.4 L474.60,226.4 L475.60,224.8 L483.20,224.8 L484.20,226.4 L489.50,226.4 L489.50,409.6 L484.20,409.6 L483.20,411.0 L475.60,411.0 L474.60,409.6 L469.10,409.6 Z" fill="#fff" stroke="#000" stroke-width="1.5" />
<line x1="469.30" y1="226.40" x2="469.30" y2="409.60" stroke="#000" stroke-width="2.0" />
<rect x="473.30" y="228.60" width="10.90" height="12.00" rx="0" fill="#fff" stroke="#000" stroke-width="1.5" />
<rect x="475.50" y="230.70" width="6.90" height="7.70" rx="0" fill="#151211" stroke="none" stroke-width="0" />
<circle cx="479.50" cy="235.10" r="1.7" fill="none" stroke="#6a5548" stroke-width="0.6"/>
<path d="M485.20,229.90 L487.20,231.10 Q489.00,234.50 487.20,237.90 L485.20,239.10 Z" fill="#1a1a1a"/>
<path d="M485.20,232.50 L486.60,232.50 L486.60,234.10 L485.20,234.10 Z" fill="#fff"/>
<line x1="485.20" y1="240.80" x2="489.20" y2="240.80" stroke="#000" stroke-width="0.9" />
<line x1="485.20" y1="243.40" x2="489.20" y2="243.40" stroke="#000" stroke-width="0.9" />
<rect x="473.30" y="243.80" width="10.90" height="12.00" rx="0" fill="#fff" stroke="#000" stroke-width="1.5" />
<rect x="475.50" y="245.90" width="6.90" height="7.70" rx="0" fill="#151211" stroke="none" stroke-width="0" />
<circle cx="479.50" cy="250.30" r="1.7" fill="none" stroke="#6a5548" stroke-width="0.6"/>
<path d="M485.20,245.10 L487.20,246.30 Q489.00,249.70 487.20,253.10 L485.20,254.30 Z" fill="#1a1a1a"/>
<path d="M485.20,247.70 L486.60,247.70 L486.60,249.30 L485.20,249.30 Z" fill="#fff"/>
<line x1="485.20" y1="256.00" x2="489.20" y2="256.00" stroke="#000" stroke-width="0.9" />
<line x1="485.20" y1="258.60" x2="489.20" y2="258.60" stroke="#000" stroke-width="0.9" />
<rect x="473.30" y="259.00" width="10.90" height="12.00" rx="0" fill="#fff" stroke="#000" stroke-width="1.5" />
<rect x="475.50" y="261.10" width="6.90" height="7.70" rx="0" fill="#151211" stroke="none" stroke-width="0" />
<circle cx="479.50" cy="265.50" r="1.7" fill="none" stroke="#6a5548" stroke-width="0.6"/>
<path d="M485.20,260.30 L487.20,261.50 Q489.00,264.90 487.20,268.30 L485.20,269.50 Z" fill="#1a1a1a"/>
<path d="M485.20,262.90 L486.60,262.90 L486.60,264.50 L485.20,264.50 Z" fill="#fff"/>
<line x1="485.20" y1="271.20" x2="489.20" y2="271.20" stroke="#000" stroke-width="0.9" />
<line x1="485.20" y1="273.80" x2="489.20" y2="273.80" stroke="#000" stroke-width="0.9" />
<rect x="473.30" y="274.20" width="10.90" height="12.00" rx="0" fill="#fff" stroke="#000" stroke-width="1.5" />
<rect x="475.50" y="276.30" width="6.90" height="7.70" rx="0" fill="#151211" stroke="none" stroke-width="0" />
<circle cx="479.50" cy="280.70" r="1.7" fill="none" stroke="#6a5548" stroke-width="0.6"/>
<path d="M485.20,275.50 L487.20,276.70 Q489.00,280.10 487.20,283.50 L485.20,284.70 Z" fill="#1a1a1a"/>
<path d="M485.20,278.10 L486.60,278.10 L486.60,279.70 L485.20,279.70 Z" fill="#fff"/>
<line x1="485.20" y1="286.40" x2="489.20" y2="286.40" stroke="#000" stroke-width="0.9" />
<line x1="485.20" y1="289.00" x2="489.20" y2="289.00" stroke="#000" stroke-width="0.9" />
<rect x="473.30" y="289.40" width="10.90" height="12.00" rx="0" fill="#fff" stroke="#000" stroke-width="1.5" />
<rect x="475.50" y="291.50" width="6.90" height="7.70" rx="0" fill="#151211" stroke="none" stroke-width="0" />
<circle cx="479.50" cy="295.90" r="1.7" fill="none" stroke="#6a5548" stroke-width="0.6"/>
<path d="M485.20,290.70 L487.20,291.90 Q489.00,295.30 487.20,298.70 L485.20,299.90 Z" fill="#1a1a1a"/>
<path d="M485.20,293.30 L486.60,293.30 L486.60,294.90 L485.20,294.90 Z" fill="#fff"/>
<rect x="473.30" y="335.00" width="10.90" height="12.00" rx="0" fill="#fff" stroke="#000" stroke-width="1.5" />
<rect x="475.50" y="337.10" width="6.90" height="7.70" rx="0" fill="#151211" stroke="none" stroke-width="0" />
<circle cx="479.50" cy="341.50" r="1.7" fill="none" stroke="#6a5548" stroke-width="0.6"/>
<path d="M485.20,336.30 L487.20,337.50 Q489.00,340.90 487.20,344.30 L485.20,345.50 Z" fill="#1a1a1a"/>
<path d="M485.20,338.90 L486.60,338.90 L486.60,340.50 L485.20,340.50 Z" fill="#fff"/>
<line x1="485.20" y1="347.20" x2="489.20" y2="347.20" stroke="#000" stroke-width="0.9" />
<line x1="485.20" y1="349.80" x2="489.20" y2="349.80" stroke="#000" stroke-width="0.9" />
<rect x="473.30" y="350.20" width="10.90" height="12.00" rx="0" fill="#fff" stroke="#000" stroke-width="1.5" />
<rect x="475.50" y="352.30" width="6.90" height="7.70" rx="0" fill="#151211" stroke="none" stroke-width="0" />
<circle cx="479.50" cy="356.70" r="1.7" fill="none" stroke="#6a5548" stroke-width="0.6"/>
<path d="M485.20,351.50 L487.20,352.70 Q489.00,356.10 487.20,359.50 L485.20,360.70 Z" fill="#1a1a1a"/>
<path d="M485.20,354.10 L486.60,354.10 L486.60,355.70 L485.20,355.70 Z" fill="#fff"/>
<line x1="485.20" y1="362.40" x2="489.20" y2="362.40" stroke="#000" stroke-width="0.9" />
<line x1="485.20" y1="365.00" x2="489.20" y2="365.00" stroke="#000" stroke-width="0.9" />
<rect x="473.30" y="365.40" width="10.90" height="12.00" rx="0" fill="#fff" stroke="#000" stroke-width="1.5" />
<rect x="475.50" y="367.50" width="6.90" height="7.70" rx="0" fill="#151211" stroke="none" stroke-width="0" />
<circle cx="479.50" cy="371.90" r="1.7" fill="none" stroke="#6a5548" stroke-width="0.6"/>
<path d="M485.20,366.70 L487.20,367.90 Q489.00,371.30 487.20,374.70 L485.20,375.90 Z" fill="#1a1a1a"/>
<path d="M485.20,369.30 L486.60,369.30 L486.60,370.90 L485.20,370.90 Z" fill="#fff"/>
<line x1="485.20" y1="377.60" x2="489.20" y2="377.60" stroke="#000" stroke-width="0.9" />
<line x1="485.20" y1="380.20" x2="489.20" y2="380.20" stroke="#000" stroke-width="0.9" />
<rect x="473.30" y="380.60" width="10.90" height="12.00" rx="0" fill="#fff" stroke="#000" stroke-width="1.5" />
<rect x="475.50" y="382.70" width="6.90" height="7.70" rx="0" fill="#151211" stroke="none" stroke-width="0" />
<circle cx="479.50" cy="387.10" r="1.7" fill="none" stroke="#6a5548" stroke-width="0.6"/>
<path d="M485.20,381.90 L487.20,383.10 Q489.00,386.50 487.20,389.90 L485.20,391.10 Z" fill="#1a1a1a"/>
<path d="M485.20,384.50 L486.60,384.50 L486.60,386.10 L485.20,386.10 Z" fill="#fff"/>
<line x1="485.20" y1="392.80" x2="489.20" y2="392.80" stroke="#000" stroke-width="0.9" />
<line x1="485.20" y1="395.40" x2="489.20" y2="395.40" stroke="#000" stroke-width="0.9" />
<rect x="473.30" y="395.80" width="10.90" height="12.00" rx="0" fill="#fff" stroke="#000" stroke-width="1.5" />
<rect x="475.50" y="397.90" width="6.90" height="7.70" rx="0" fill="#151211" stroke="none" stroke-width="0" />
<circle cx="479.50" cy="402.30" r="1.7" fill="none" stroke="#6a5548" stroke-width="0.6"/>
<path d="M485.20,397.10 L487.20,398.30 Q489.00,401.70 487.20,405.10 L485.20,406.30 Z" fill="#1a1a1a"/>
<path d="M485.20,399.70 L486.60,399.70 L486.60,401.30 L485.20,401.30 Z" fill="#fff"/>
<rect x="447.60" y="299.60" width="63.40" height="36.00" rx="0" fill="#c0c0c0" stroke="none" stroke-width="0" />
<rect x="449.00" y="300.80" width="60.80" height="33.80" rx="3.6" fill="#fff" stroke="#000" stroke-width="2.0" />
<path d="M509.80,312.80 A4.6,4.6 0 0 0 509.80,322.00" fill="#d0d0d0" stroke="#000" stroke-width="1.3"/>
<line x1="176.00" y1="238.70" x2="522.00" y2="238.70" stroke="#000" stroke-width="1.5" />
<line x1="219.20" y1="321.00" x2="219.20" y2="484.40" stroke="#000" stroke-width="1.3" />
<line x1="305.70" y1="405.00" x2="305.70" y2="484.40" stroke="#000" stroke-width="1.3" />
<line x1="192.00" y1="478.00" x2="206.80" y2="478.00" stroke="#000" stroke-width="1.4" />
<polygon points="219.20,478.00 203.70,474.00 203.70,482.00" fill="#000"/>
<line x1="334.00" y1="478.00" x2="318.10" y2="478.00" stroke="#000" stroke-width="1.4" />
<polygon points="305.70,478.00 321.20,474.00 321.20,482.00" fill="#000"/>
<line x1="130.20" y1="293.20" x2="130.20" y2="210.80" stroke="#000" stroke-width="1.4" />
<polygon points="130.20,197.20 125.50,214.20 134.90,214.20" fill="#000"/>
<line x1="130.20" y1="343.10" x2="130.20" y2="425.20" stroke="#000" stroke-width="1.4" />
<polygon points="130.20,438.40 125.50,421.90 134.90,421.90" fill="#000"/>
<g fill="none" stroke="#000" opacity="0.032" stroke-linejoin="round" stroke-linecap="round" clip-path="url(#stripclip)">
<rect x="-89" y="-89" width="178" height="178" rx="23" transform="translate(348.65 237.45) rotate(-14.5)" stroke-width="21.5"/>
<path d="M359.5,196 L363,262 Q364,286 386,300 Q410,318 386,334 L330,352" stroke-width="15"/>
<path d="M283,300 Q284,330 318,334" stroke-width="9"/>
</g>
<g fill="none" stroke="#000" opacity="0.022" stroke-linejoin="round" stroke-linecap="round" clip-path="url(#latchclip)">
<rect x="-89" y="-89" width="178" height="178" rx="23" transform="translate(348.65 237.45) rotate(-14.5)" stroke-width="21.5"/>
<path d="M359.5,196 L363,262 Q364,286 386,300 Q410,318 386,334 L330,352" stroke-width="15"/>
<path d="M283,300 Q284,330 318,334" stroke-width="9"/>
</g>
<g class="txt">
<text transform="translate(139.50 78.40) rotate(-90) scale(0.87 1)" font-size="25" text-anchor="middle" font-weight="normal" stroke="#000" stroke-width="0.45">15</text>
<!--T15-->
<text transform="translate(559.00 83.00) rotate(-90) scale(0.85 1)" font-size="25" text-anchor="middle" font-weight="normal" stroke="#000" stroke-width="0.45">0,5</text>
<text transform="translate(369.40 158.60) rotate(0) scale(0.72 1)" font-size="25.5" text-anchor="middle" font-weight="normal" stroke="#000" stroke-width="0.45">R</text>
<text transform="translate(139.00 320.10) rotate(-90) scale(0.8 1)" font-size="25" text-anchor="middle" font-weight="normal" stroke="#000" stroke-width="0.45">W</text>
<text transform="translate(263.00 488.20) rotate(0) scale(0.85 1)" font-size="25.5" text-anchor="middle" font-weight="normal" stroke="#000" stroke-width="0.45">20</text>
</g>
</svg>
</body>
</html>
